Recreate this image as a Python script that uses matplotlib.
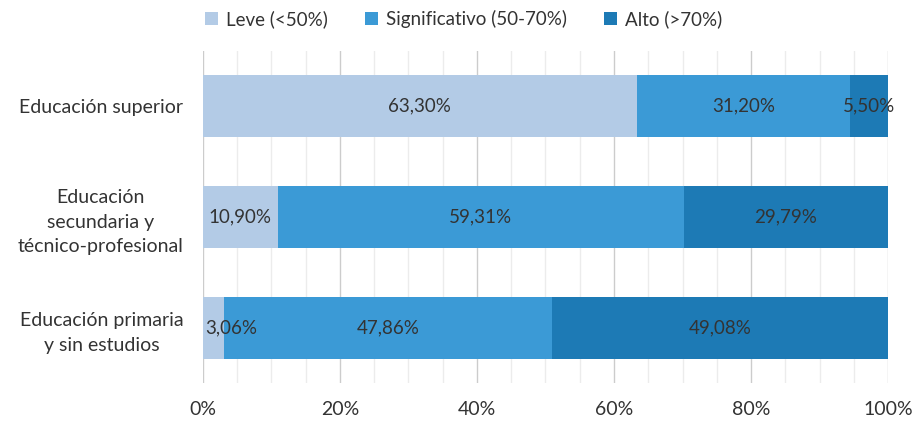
import matplotlib.pyplot as plt
from matplotlib.ticker import MultipleLocator, FuncFormatter

plt.rcParams['font.family'] = ['Lato', 'DejaVu Sans']

# categories from bottom to top
categorias = ['Educación primaria\ny sin estudios',
              'Educación\nsecundaria y\ntécnico-profesional',
              'Educación superior']
leve = [3.06, 10.90, 63.30]
significativo = [47.86, 59.31, 31.20]
alto = [49.08, 29.79, 5.50]

series = ['Leve (<50%)', 'Significativo (50-70%)', 'Alto (>70%)']
colores = ['#b3cbe6', '#3b9ad6', '#1d7ab5']

fig, ax = plt.subplots(figsize=(9.14, 4.21), dpi=100)
fig.subplots_adjust(left=0.222, right=0.9716, top=0.88, bottom=0.09)

y = range(len(categorias))
izq = [0] * len(categorias)
for nombre, vals, col in zip(series, [leve, significativo, alto], colores):
    bars = ax.barh(y, vals, left=izq, height=0.56, color=col, label=nombre, zorder=2)
    for b, v, l in zip(bars, vals, izq):
        yc = b.get_y() + b.get_height() / 2
        txt = f'{v:.2f}%'.replace('.', ',')
        if l == 0 and v < 5:
            # too narrow at the axis start: label starts at the bar edge
            ax.text(l + 0.4, yc, txt, ha='left', va='center',
                    fontsize=13.5, color='#333333', zorder=3)
        else:
            ax.text(l + v / 2, yc, txt, ha='center', va='center',
                    fontsize=13.5, color='#333333', zorder=3)
    izq = [a + b for a, b in zip(izq, vals)]

ax.set_xlim(0, 100)
ax.set_ylim(-0.5, 2.5)
ax.xaxis.set_major_locator(MultipleLocator(20))
ax.xaxis.set_minor_locator(MultipleLocator(5))
ax.xaxis.set_major_formatter(FuncFormatter(lambda v, p: f'{v:.0f}%'))
ax.grid(axis='x', which='major', color='#cccccc', linewidth=1, zorder=0)
ax.grid(axis='x', which='minor', color='#ececec', linewidth=1, zorder=0)
ax.set_yticks(list(y))
ax.set_yticklabels(categorias, multialignment='center', linespacing=1.55)
ax.tick_params(axis='both', which='both', length=0, labelsize=14, colors='#333333')
ax.tick_params(axis='x', pad=13)
ax.tick_params(axis='y', pad=14)
for s in ax.spines.values():
    s.set_visible(False)

fig.legend(loc='upper center', bbox_to_anchor=(0.507, 1.017), ncol=3, frameon=False,
           fontsize=13.5, handlelength=0.7, handleheight=0.7, handletextpad=0.4,
           columnspacing=2.0, labelcolor='#333333')

fig.savefig('out.png', dpi=100)
